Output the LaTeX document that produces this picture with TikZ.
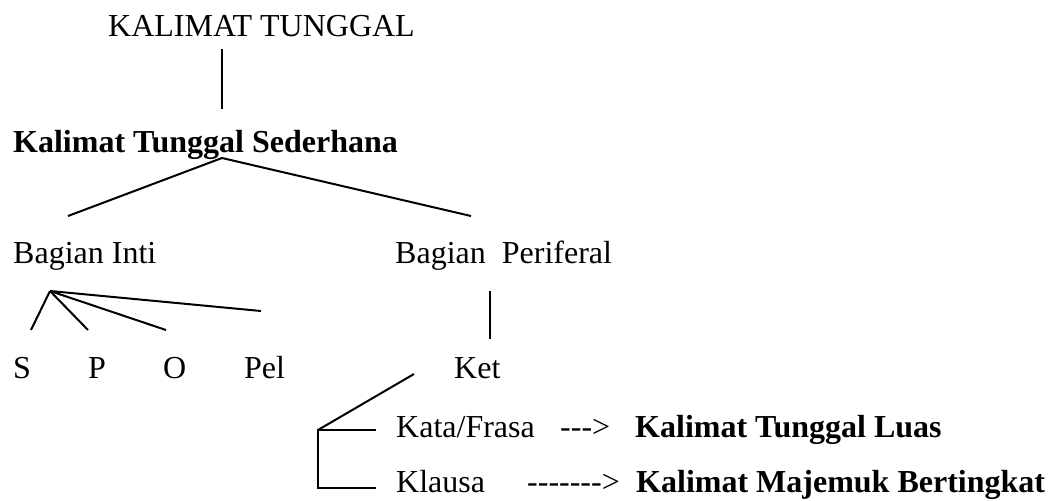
\documentclass[tikz,border=0pt]{standalone}
\usepackage{fontspec}
\setmainfont{Liberation Serif}
\begin{document}
\begin{tikzpicture}[x=1pt,y=-1pt,
  lbl/.style={anchor=base west,inner sep=0pt,font=\fontsize{32}{38}\selectfont},
  blbl/.style={lbl,font=\fontsize{32}{38}\selectfont\bfseries},
  branch/.style={line width=2pt}]
\useasboundingbox (0,0) rectangle (1048,500);

% labels
\node[lbl]  (root)   at (108,37)  {KALIMAT TUNGGAL};
\node[blbl] (kts)    at (13,152)  {Kalimat Tunggal Sederhana};
\node[lbl]  (inti)   at (13,263)  {Bagian Inti};
\node[lbl]  (peri)   at (395,263) {Bagian\ \ Periferal};
\node[lbl]  (s)      at (13,378)  {S};
\node[lbl]  (p)      at (88,378)  {P};
\node[lbl]  (o)      at (163,378) {O};
\node[lbl]  (pel)    at (244,378) {Pel};
\node[lbl]  (ket)    at (454,378) {Ket};
\node[lbl]  (kata)   at (396,437) {Kata/Frasa};
\node[lbl]  (arr1)   at (560,437) {{-}{-}{-}>};
\node[blbl] (ktl)    at (635,437) {Kalimat Tunggal Luas};
\node[lbl]  (klausa) at (396,492) {Klausa};
\node[lbl]  (arr2)   at (527,492) {{-}{-}{-}{-}{-}{-}{-}>};
\node[blbl] (kmb)    at (636,492) {Kalimat Majemuk Bertingkat};

% branch points
\coordinate (rootdown) at (222,49);
\coordinate (ktsup)    at (222,109);
\coordinate (ktsfork)  at (222,158);
\coordinate (intiend)  at (68,216);
\coordinate (periend)  at (471,216);
\coordinate (intifork) at (50,291);
\coordinate (send)     at (31,330);
\coordinate (pend)     at (88,330);
\coordinate (oend)     at (166,330);
\coordinate (pelend)   at (261,311);
\coordinate (peritop)  at (490,291);
\coordinate (peribot)  at (490,339);
\coordinate (ketfork)  at (414,374);
\coordinate (brtop)    at (318,430);
\coordinate (brbot)    at (318,488);
\coordinate (katatip)  at (376,430);
\coordinate (klausatip) at (376,488);

% connectors
\draw[branch] (rootdown) -- (ktsup);
\draw[branch] (intiend) -- (ktsfork) -- (periend);
\draw[branch] (intifork) -- (send);
\draw[branch] (intifork) -- (pend);
\draw[branch] (intifork) -- (oend);
\draw[branch] (intifork) -- (pelend);
\draw[branch] (peritop) -- (peribot);
\draw[branch] (ketfork) -- (brtop);
\draw[branch] (katatip) -- (brtop) -- (brbot) -- (klausatip);
\end{tikzpicture}
\end{document}
